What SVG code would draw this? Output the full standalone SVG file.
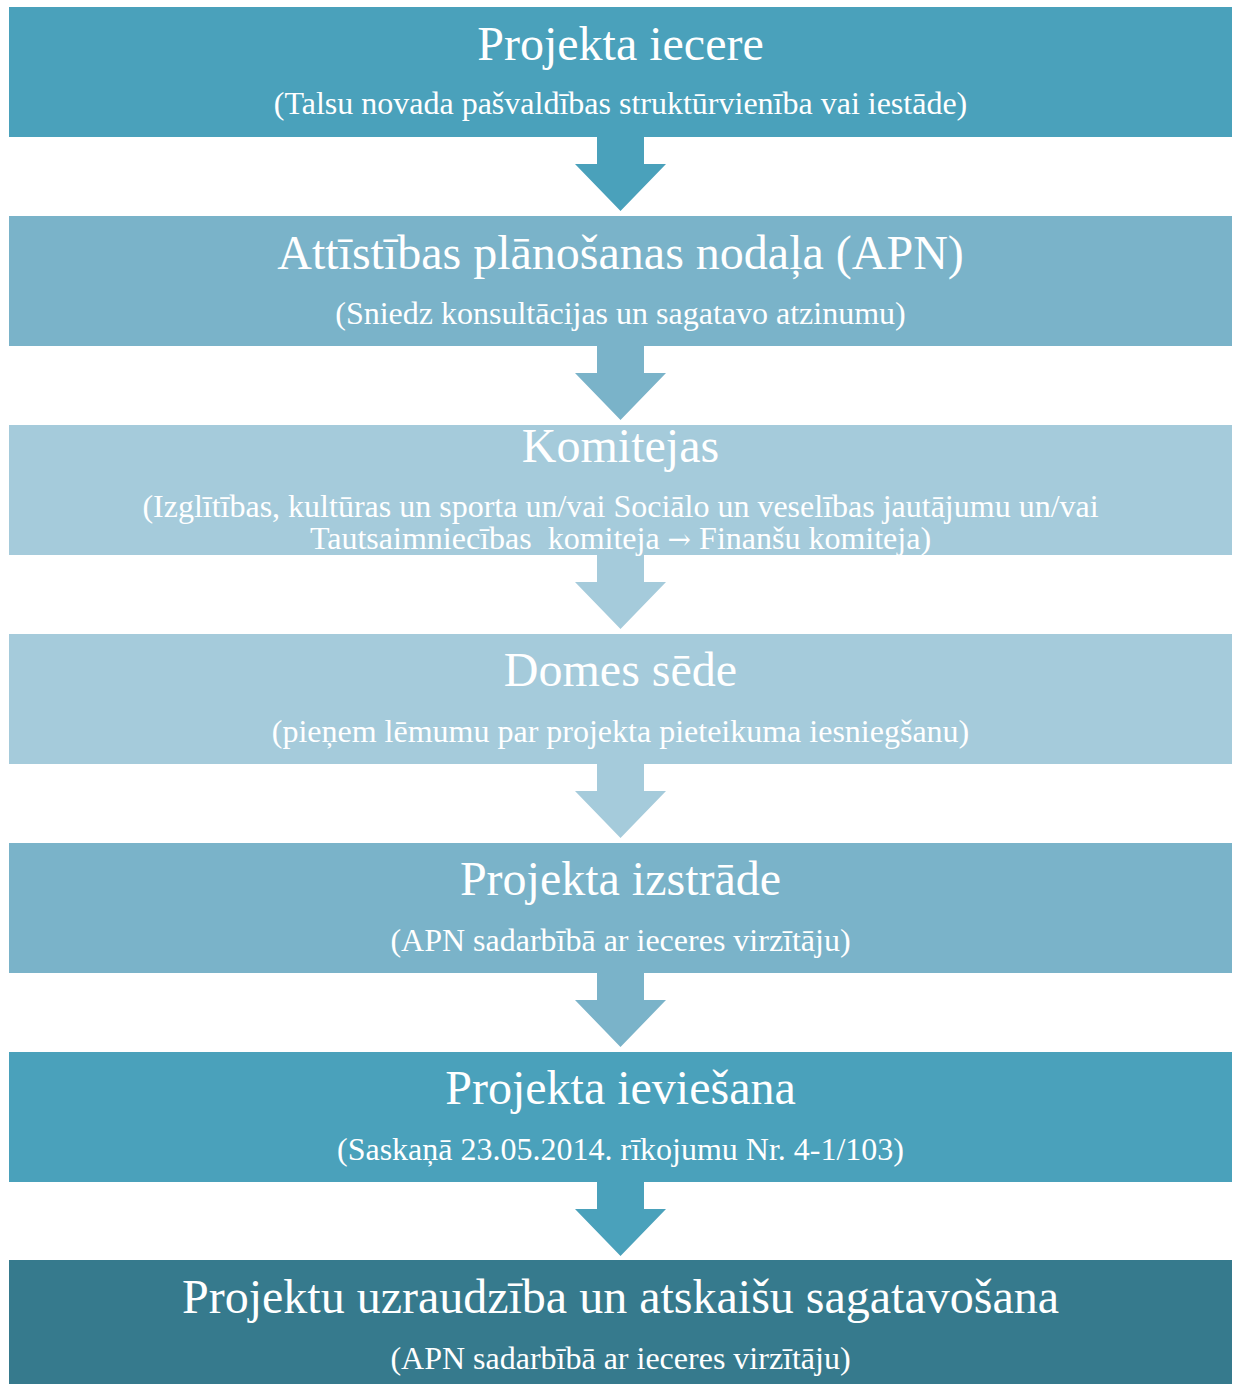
<svg xmlns="http://www.w3.org/2000/svg" width="1237" height="1384" viewBox="0 0 1237 1384">
<style>
.t{font-family:"Liberation Serif","Times New Roman",serif;fill:#fff;text-anchor:middle}
.h{font-size:48px}
.s{font-size:32px}
.a{font-family:"DejaVu Serif",serif;font-size:28px}
.c1{fill:#4aa1bb}.c2{fill:#7ab3c9}.c3{fill:#a5cbdb}.c7{fill:#367a8d}
</style>
<defs>
<path id="arr" d="M597,0 H644 V27 H666 L620.5,74 L575,27 H597 Z"/>
</defs>
<g id="connectors">
<use href="#arr" class="c1" transform="translate(0,137)"/>
<use href="#arr" class="c2" transform="translate(0,346)"/>
<use href="#arr" class="c3" transform="translate(0,555)"/>
<use href="#arr" class="c3" transform="translate(0,764)"/>
<use href="#arr" class="c2" transform="translate(0,973)"/>
<use href="#arr" class="c1" transform="translate(0,1182)"/>
</g>
<g id="n1"><rect class="c1" x="9" y="7" width="1223" height="130"/>
<text class="t h" x="620.5" y="60">Projekta iecere</text>
<text class="t s" x="620.5" y="114">(Talsu novada pašvaldības struktūrvienība vai iestāde)</text></g>
<g id="n2"><rect class="c2" x="9" y="216" width="1223" height="130"/>
<text class="t h" x="620.5" y="269">Attīstības plānošanas nodaļa (APN)</text>
<text class="t s" x="620.5" y="324">(Sniedz konsultācijas un sagatavo atzinumu)</text></g>
<g id="n3"><rect class="c3" x="9" y="425" width="1223" height="130"/>
<text class="t h" x="620.5" y="462">Komitejas</text>
<text class="t s" x="620.5" y="517">(Izglītības, kultūras un sporta un/vai Sociālo un veselības jautājumu un/vai</text>
<text class="t s" x="620.5" y="549" xml:space="preserve">Tautsaimniecības  komiteja <tspan class="a">→</tspan> Finanšu komiteja)</text></g>
<g id="n4"><rect class="c3" x="9" y="634" width="1223" height="130"/>
<text class="t h" x="620.5" y="686">Domes sēde</text>
<text class="t s" x="620.5" y="742">(pieņem lēmumu par projekta pieteikuma iesniegšanu)</text></g>
<g id="n5"><rect class="c2" x="9" y="843" width="1223" height="130"/>
<text class="t h" x="620.5" y="895">Projekta izstrāde</text>
<text class="t s" x="620.5" y="951">(APN sadarbībā ar ieceres virzītāju)</text></g>
<g id="n6"><rect class="c1" x="9" y="1052" width="1223" height="130"/>
<text class="t h" x="620.5" y="1104">Projekta ieviešana</text>
<text class="t s" x="620.5" y="1160">(Saskaņā 23.05.2014. rīkojumu Nr. 4-1/103)</text></g>
<g id="n7"><rect class="c7" x="9" y="1260" width="1223" height="124"/>
<text class="t h" x="620.5" y="1313">Projektu uzraudzība un atskaišu sagatavošana</text>
<text class="t s" x="620.5" y="1369">(APN sadarbībā ar ieceres virzītāju)</text></g>
</svg>
